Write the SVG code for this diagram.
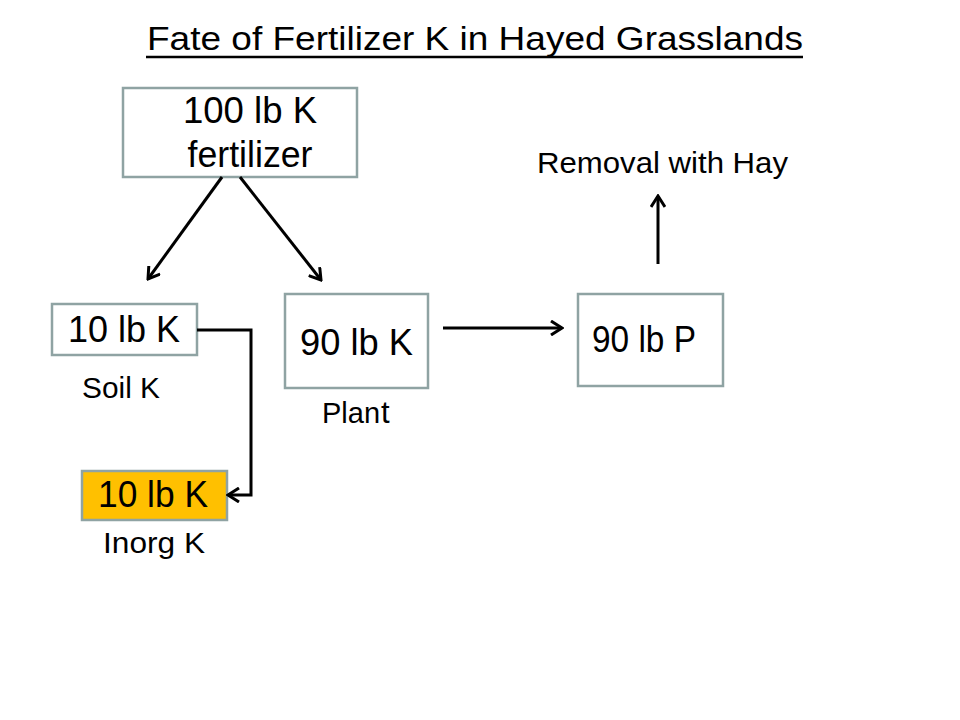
<svg xmlns="http://www.w3.org/2000/svg" width="960" height="720" viewBox="0 0 960 720">
<defs>
<style>
text{font-family:"Liberation Sans",Arial,sans-serif;fill:#000}
.box{fill:#fff;stroke:#8FA3A3;stroke-width:2.5}
.hl{fill:#FFC000;stroke:#8FA3A3;stroke-width:2.5}
.big{font-size:37px;text-anchor:middle}
.lbl{font-size:29px}
.conn{fill:none;stroke:#000;stroke-width:3;marker-end:url(#arr)}
</style>
<marker id="arr" markerUnits="userSpaceOnUse" markerWidth="16" markerHeight="16" viewBox="0 0 16 16" refX="14" refY="8" orient="auto">
<path d="M3,1 L14,8 L3,15" fill="none" stroke="#000" stroke-width="3"/>
</marker>
</defs>
<rect width="960" height="720" fill="#fff"/>
<g id="title">
<text x="147" y="50" font-size="33" textLength="656" lengthAdjust="spacingAndGlyphs">Fate of Fertilizer  K in Hayed  Grasslands</text>
<line x1="146" y1="57" x2="803" y2="57" stroke="#000" stroke-width="2.5"/>
</g>
<g id="fertilizer">
<rect class="box" x="123" y="88" width="234" height="89"/>
<text class="big" x="250" y="123" textLength="134" lengthAdjust="spacingAndGlyphs">100 lb K</text>
<text class="big" x="250" y="167" textLength="125" lengthAdjust="spacingAndGlyphs">fertilizer</text>
</g>
<g id="soilK">
<rect class="box" x="52" y="304" width="145" height="51"/>
<text class="big" x="124" y="342" textLength="112" lengthAdjust="spacingAndGlyphs">10 lb K</text>
<text class="lbl" x="82" y="398" textLength="78" lengthAdjust="spacingAndGlyphs">Soil K</text>
</g>
<g id="plantK">
<rect class="box" x="285" y="294" width="143" height="94"/>
<text class="big" x="356.5" y="355" textLength="113" lengthAdjust="spacingAndGlyphs">90 lb K</text>
<text class="lbl" x="322" y="423">Plan<tspan dx="1" font-size="31">t</tspan></text>
</g>
<g id="plantP">
<rect class="box" x="578" y="294" width="145" height="92"/>
<text class="big" x="644" y="352" textLength="104" lengthAdjust="spacingAndGlyphs">90 lb P</text>
</g>
<g id="inorgK">
<rect class="hl" x="82" y="471" width="145" height="49"/>
<text class="big" x="153" y="507" textLength="110" lengthAdjust="spacingAndGlyphs">10 lb K</text>
<text class="lbl" x="103" y="553" textLength="102" lengthAdjust="spacingAndGlyphs">Inorg K</text>
</g>
<g id="removal">
<text class="lbl" x="537" y="173" textLength="251" lengthAdjust="spacingAndGlyphs">Removal  with Hay</text>
</g>
<g id="connectors">
<line class="conn" x1="222" y1="177" x2="148" y2="279"/>
<line class="conn" x1="240" y1="177" x2="321" y2="280"/>
<polyline class="conn" points="197,330 251,330 251,495 228,495"/>
<line class="conn" x1="443" y1="328" x2="562" y2="328"/>
<line class="conn" x1="658" y1="264" x2="658" y2="196"/>
</g>
</svg>
